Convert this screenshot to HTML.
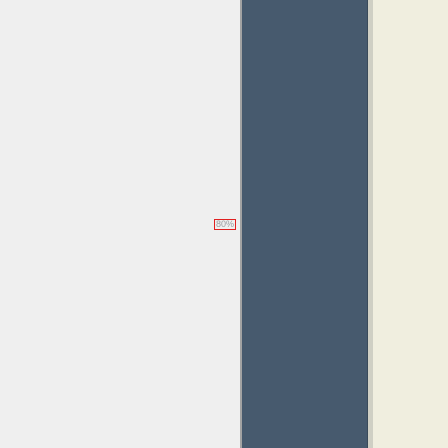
<!DOCTYPE html>
<html><head><meta charset="utf-8"><style>
html,body{margin:0;padding:0;width:448px;height:448px;overflow:hidden;background:#efefef;font-family:"Liberation Sans",sans-serif;}
#chart{position:absolute;left:0;top:0;width:448px;height:448px;}
</style></head><body>
<div id="chart">
<div style="position:absolute;left:373px;top:0;width:75px;height:448px;background:#f0eedf"></div>
<div style="position:absolute;left:368px;top:0;width:5px;height:448px;background:#cfcfc4"></div>
</div>
<script>
const categories = ["progress"];
const values = [80];
const labels = ["80%"];
const chart = document.getElementById('chart');
const barLeft = 240, barW = 128, H = 448;
function yScale(v){ return H - (v/80)*H; }
values.forEach((v,i)=>{
  const top = yScale(v);
  const bar = document.createElement('div');
  
  
  bar.style.cssText = `position:absolute;left:${barLeft}px;top:${top}px;width:${barW}px;height:${H-top}px;background:#475a6e;border-left:2px solid #a3a3a3;border-right:1px solid #3a4a5a;box-sizing:border-box;`;
  chart.appendChild(bar);
  const lab = document.createElement('div');
  
  
  const ly = top + (H-top)*0.5 - 5;
  lab.style.cssText = `position:absolute;left:214px;top:${ly}px;width:22px;height:11px;border:1.5px solid #e02020;box-sizing:border-box;font-size:9px;line-height:9px;color:#9a9ea2;text-align:center;overflow:hidden;`;
  lab.textContent = labels[i];
  chart.appendChild(lab);
});
</script>
</body></html>
